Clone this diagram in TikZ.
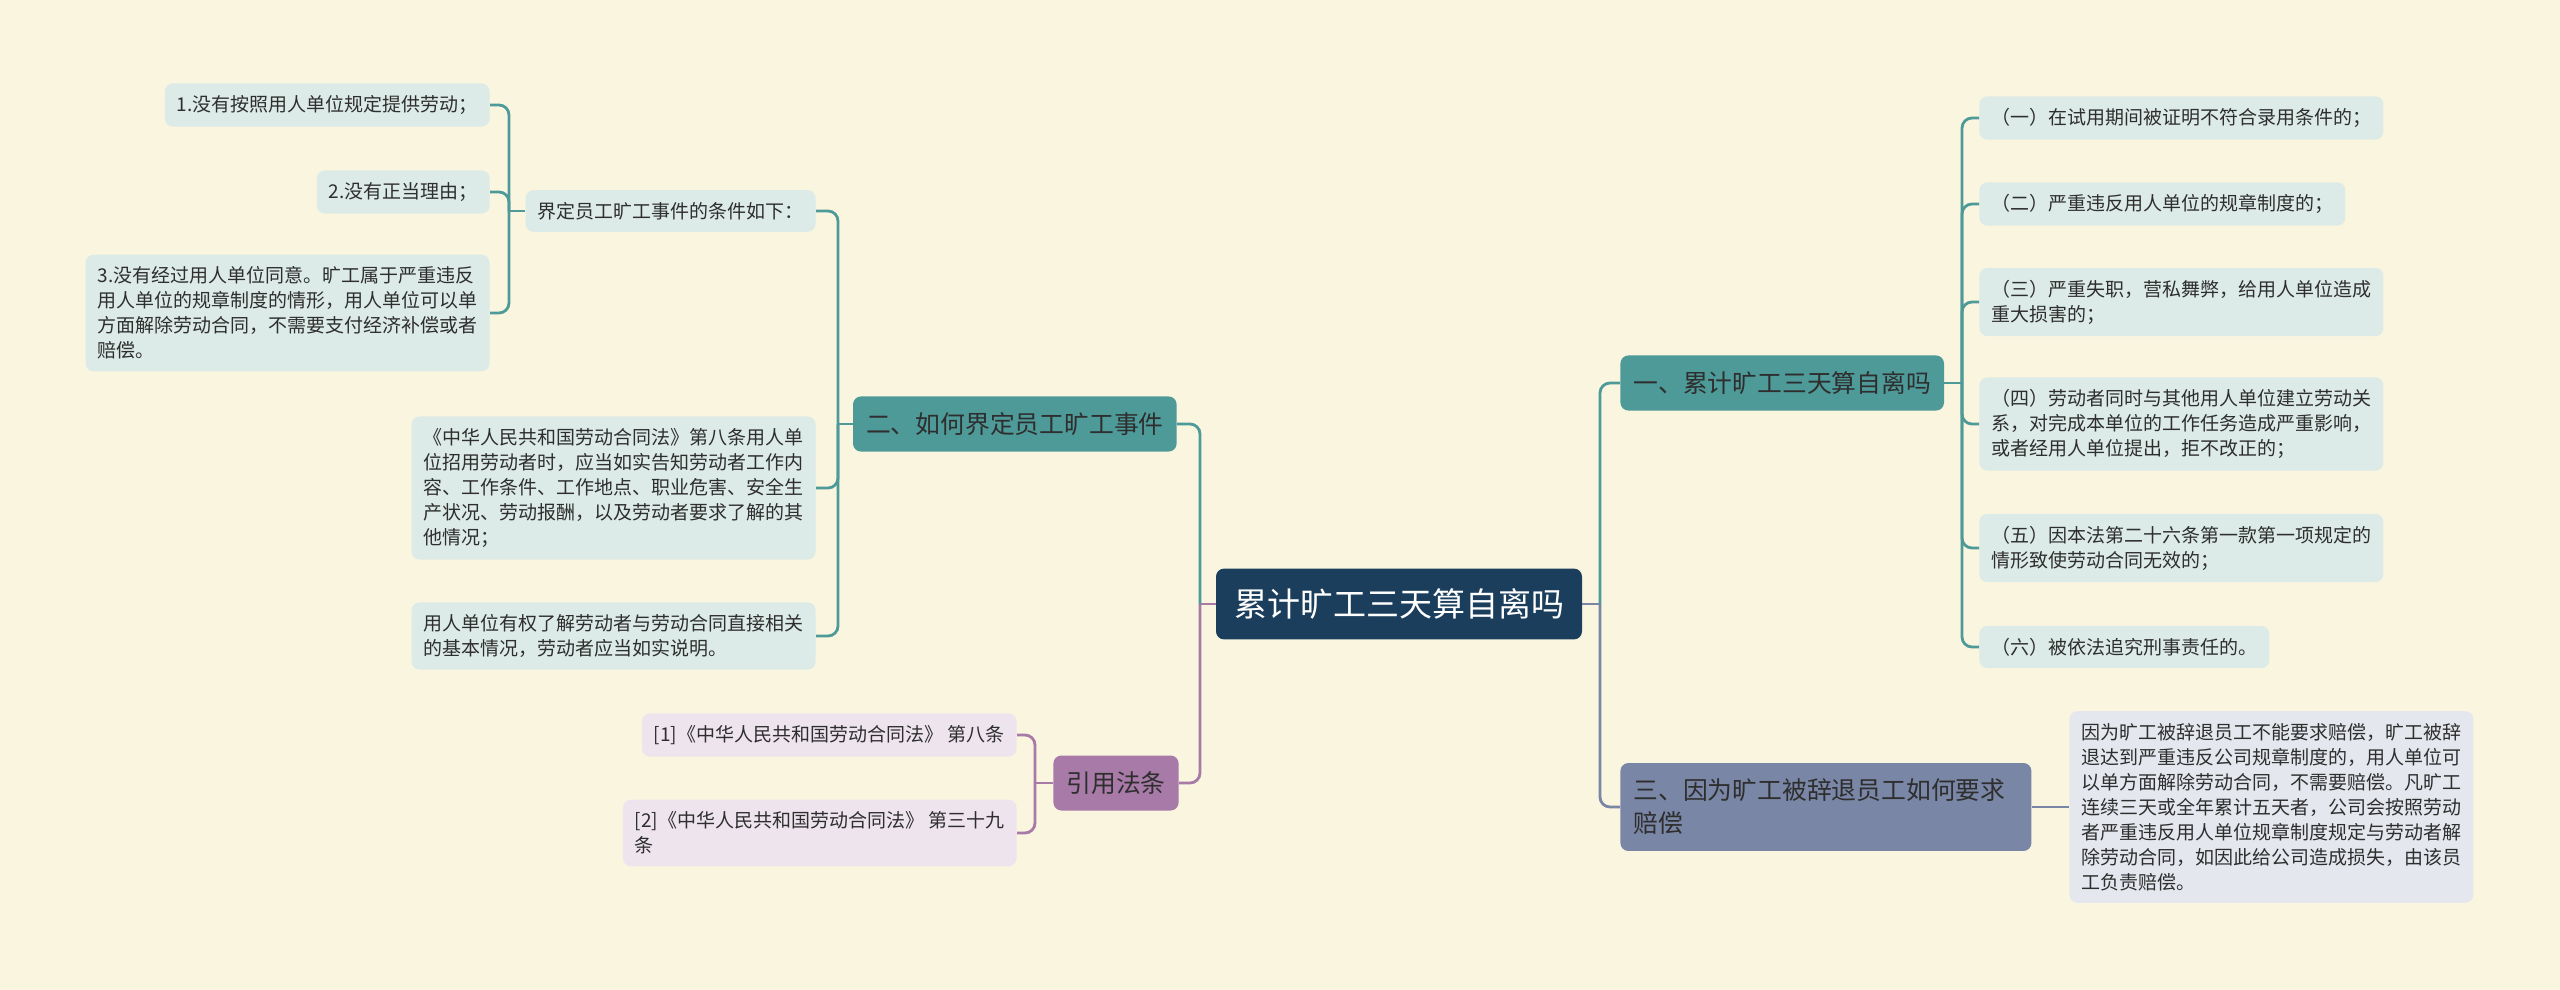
\documentclass[tikz,border=0pt]{standalone}
\usepackage{fontspec}
\setmainfont{Noto Sans CJK SC}

\definecolor{bgcream}{HTML}{FAF5DF}
\definecolor{rootnavy}{HTML}{1B3E5C}
\definecolor{topicteal}{HTML}{4E9A99}
\definecolor{leafteal}{HTML}{DCEBE7}
\definecolor{topicplum}{HTML}{A87AA8}
\definecolor{leafplum}{HTML}{EEE4EE}
\definecolor{topicslate}{HTML}{7A86A6}
\definecolor{leafslate}{HTML}{E4E7EE}
\definecolor{inkgray}{HTML}{2E2E2E}

\tikzset{
  rootbox/.style={fill=rootnavy, text=white, rounded corners=4pt,
    inner xsep=9pt, inner ysep=10pt, font=\fontsize{16.5pt}{20pt}\selectfont},
  topicbox/.style={fill=#1, text=inkgray, rounded corners=4pt, align=left,
    inner xsep=6.5pt, inner ysep=8pt, font=\fontsize{12.4pt}{16.5pt}\selectfont},
  leafbox/.style={fill=#1, text=inkgray, rounded corners=4pt, align=left,
    inner xsep=6pt, inner ysep=6pt, font=\fontsize{9.5pt}{12.5pt}\selectfont},
  link/.style={draw=#1, line width=1.4pt, rounded corners=5pt},
}

\begin{document}
\begin{tikzpicture}[x=0.5pt,y=-0.5pt]
\fill[bgcream] (0,0) rectangle (2560,990);
\useasboundingbox (0,0) rectangle (2560,990);

% centre and main topics
\node[rootbox] (root) at (1399,604) {累计旷工三天算自离吗};
\node[topicbox=topicteal, anchor=west] (t1) at (1620,383) {一、累计旷工三天算自离吗};
\node[topicbox=topicteal, anchor=east] (t2) at (1177,424) {二、如何界定员工旷工事件};
\node[topicbox=topicplum, anchor=east] (t3) at (1179,783) {引用法条};
\node[topicbox=topicslate, anchor=west, text width=192.5pt] (t4) at (1620,807)
  {三、因为旷工被辞退员工如何要求\\赔偿};

% topic one
\node[leafbox=leafteal, anchor=west] (a1) at (1979,118) {（一）在试用期间被证明不符合录用条件的；};
\node[leafbox=leafteal, anchor=west] (a2) at (1979,204) {（二）严重违反用人单位的规章制度的；};
\node[leafbox=leafteal, anchor=west] (a3) at (1979,302) {（三）严重失职，营私舞弊，给用人单位造成\\重大损害的；};
\node[leafbox=leafteal, anchor=west] (a4) at (1979,424) {（四）劳动者同时与其他用人单位建立劳动关\\系，对完成本单位的工作任务造成严重影响，\\或者经用人单位提出，拒不改正的；};
\node[leafbox=leafteal, anchor=west] (a5) at (1979,548) {（五）因本法第二十六条第一款第一项规定的\\情形致使劳动合同无效的；};
\node[leafbox=leafteal, anchor=west] (a6) at (1979,647) {（六）被依法追究刑事责任的。};

% topic two
\node[leafbox=leafteal, anchor=east] (b1) at (816,211) {界定员工旷工事件的条件如下：};
\node[leafbox=leafteal, anchor=east] (b2) at (816,488) {《中华人民共和国劳动合同法》第八条用人单\\位招用劳动者时，应当如实告知劳动者工作内\\容、工作条件、工作地点、职业危害、安全生\\产状况、劳动报酬，以及劳动者要求了解的其\\他情况；};
\node[leafbox=leafteal, anchor=east] (b3) at (816,636) {用人单位有权了解劳动者与劳动合同直接相关\\的基本情况，劳动者应当如实说明。};
\node[leafbox=leafteal, anchor=east] (c1) at (490,105) {1.没有按照用人单位规定提供劳动；};
\node[leafbox=leafteal, anchor=east] (c2) at (490,192) {2.没有正当理由；};
\node[leafbox=leafteal, anchor=east] (c3) at (490,313) {3.没有经过用人单位同意。旷工属于严重违反\\用人单位的规章制度的情形，用人单位可以单\\方面解除劳动合同，不需要支付经济补偿或者\\赔偿。};

% citations
\node[leafbox=leafplum, anchor=east] (d1) at (1017,735) {[1]《中华人民共和国劳动合同法》 第八条};
\node[leafbox=leafplum, anchor=east] (d2) at (1017,833) {[2]《中华人民共和国劳动合同法》 第三十九\\条};

% topic three
\node[leafbox=leafslate, anchor=west] (e1) at (2069,807) {因为旷工被辞退员工不能要求赔偿，旷工被辞\\退达到严重违反公司规章制度的，用人单位可\\以单方面解除劳动合同，不需要赔偿。凡旷工\\连续三天或全年累计五天者，公司会按照劳动\\者严重违反用人单位规章制度规定与劳动者解\\除劳动合同，如因此给公司造成损失，由该员\\工负责赔偿。};

% junctions
\coordinate (jl) at (1200,604);
\coordinate (jr) at (1600,604);
\coordinate (j1) at (1962,383);
\coordinate (j2) at (838,424);
\coordinate (jb) at (509,211);
\coordinate (j3) at (1035,783);

% connectors
\draw[link=topicplum] (root.west) -- (jl);
\draw[link=topicteal] (jl) |- (t2.east);
\draw[link=topicplum] (jl) |- (t3.east);
\draw[link=topicslate] (root.east) -- (jr);
\draw[link=topicteal] (jr) |- (t1.west);
\draw[link=topicslate] (jr) |- (t4.west);

\draw[link=topicteal] (t1.east) -- (j1);
\foreach \n in {a1,a2,a3,a4,a5,a6}
  \draw[link=topicteal] (j1) |- (\n.west);

\draw[link=topicteal] (t2.west) -- (j2);
\foreach \n in {b1,b2,b3}
  \draw[link=topicteal] (j2) |- (\n.east);

\draw[link=topicteal] (b1.west) -- (jb);
\foreach \n in {c1,c2,c3}
  \draw[link=topicteal] (jb) |- (\n.east);

\draw[link=topicplum] (t3.west) -- (j3);
\foreach \n in {d1,d2}
  \draw[link=topicplum] (j3) |- (\n.east);

\draw[link=topicslate] (t4.east) -- (e1.west);
\end{tikzpicture}
\end{document}
